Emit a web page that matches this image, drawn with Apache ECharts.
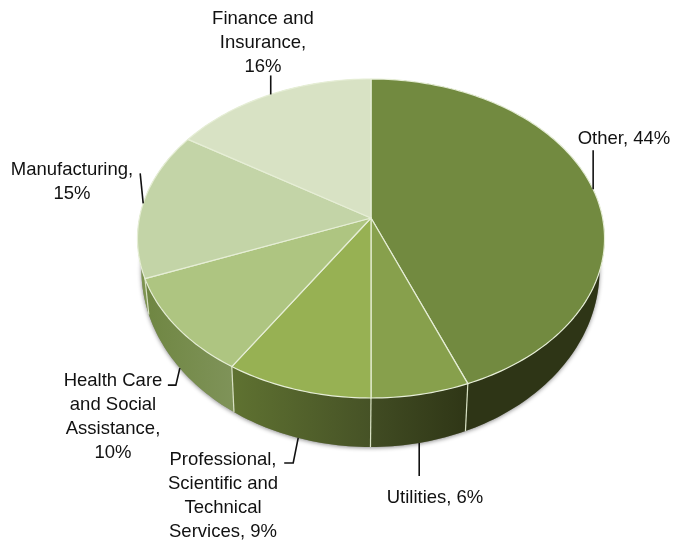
<!DOCTYPE html>
<html>
<head>
<meta charset="utf-8">
<style>html,body{margin:0;padding:0;background:#fff}#c{width:674px;height:542px}</style>
<script src="https://cdn.jsdelivr.net/npm/echarts@6/dist/echarts.min.js"></script>
</head>
<body>
<div id="c"></div>
<script>
// ---- data ----
const categories = ['Other', 'Utilities', 'Professional, Scientific and Technical Services', 'Health Care and Social Assistance', 'Manufacturing', 'Finance and Insurance'];
const shares = [44, 6, 9, 10, 15, 16];
const labelTexts = ['Other, 44%', 'Utilities, 6%', 'Professional,\nScientific and\nTechnical\nServices, 9%', 'Health Care\nand Social\nAssistance,\n10%', 'Manufacturing,\n15%', 'Finance and\nInsurance,\n16%'];

// ---- styles & layout ----
const topColors = ['#728a40', '#87a04c', '#97b153', '#aec581', '#c3d4a7', '#d8e2c4'];
const wallColors = [['#2e3516', '#2e3516'], ['#414c23', '#2f3616'], ['#5f7231', '#465226'], ['#6f8642', '#7f9359'], ['#7d9450', '#7d9450'], ['#c3d4a7', '#c3d4a7']];
const labelAnchors = [[624, 127], [435, 486], [223, 448], [113, 369], [72, 158], [263, 7]];
// leader: which rim (0 top, 1 lower), then offsets from the rim point
const leaders = [
  [0, [[0, -39]]],
  [1, [[0, 33]]],
  [1, [[-5, 25], [-14, 25]]],
  [1, [[-4, 17], [-12, 17]]],
  [0, [[-3, -30]]],
  [0, [[0, -19]]]
];
const face = { cx: 371, apexY: 218, R: 231.6, a: -128.85, c: 0.1285 };
const ell = { cx: 370.5, cy: 238.5, rx: 233.5, ry: 159.5 };
const low = { cx: 370, cy: 270, rx: 229, ry: 177 };
const total = shares.reduce((s, v) => s + v, 0);

function topPoint(frac) {
  const t = frac * 2 * Math.PI, u = Math.sin(t), v = Math.cos(t), w = 1 + face.c * v;
  return [face.cx + face.R * u / w, (face.a * v + face.apexY) / w];
}
function lowPoint(frac) {
  const p = topPoint(frac);
  return [low.cx + (p[0] - ell.cx) / ell.rx * low.rx, low.cy + (p[1] - ell.cy) / ell.ry * low.ry];
}
function range(i) {
  let s = 0;
  for (let k = 0; k < i; k++) s += shares[k];
  return [s / total, (s + shares[i]) / total];
}
function arc(fn, a, b) {
  const n = Math.max(4, Math.ceil((b - a) * 300)), pts = [];
  for (let k = 0; k <= n; k++) pts.push(fn(a + (b - a) * k / n));
  return pts;
}

const renderWall = (params) => {
  const i = params.dataIndex, [a, b] = range(i), children = [];
  if (i === 0) {
    children.push({
      type: 'polygon', shape: { points: arc(lowPoint, 0, 1) },
      style: { fill: '#8a8a80', shadowBlur: 4, shadowColor: 'rgba(0,0,0,0.45)', shadowOffsetY: 1 }
    });
  }
  children.push({
    type: 'polygon',
    shape: { points: arc(topPoint, a, b).concat(arc(lowPoint, a, b).reverse()) },
    style: {
      fill: new echarts.graphic.LinearGradient(0, 0, 1, 0, [
        { offset: 0, color: wallColors[i][0] }, { offset: 1, color: wallColors[i][1] }
      ])
    }
  });
  children.push({
    type: 'line',
    shape: { x1: topPoint(a)[0], y1: topPoint(a)[1], x2: lowPoint(a)[0], y2: lowPoint(a)[1] },
    style: { stroke: '#d9e2c4', lineWidth: 1.2 }
  });
  return { type: 'group', children };
};

const renderTop = (params) => {
  const i = params.dataIndex, [a, b] = range(i);
  return {
    type: 'polygon',
    shape: { points: [[face.cx, face.apexY]].concat(arc(topPoint, a, b)) },
    style: { fill: topColors[i], stroke: '#e6eed6', lineWidth: 1.2, lineJoin: 'round' }
  };
};

const renderLabel = (params) => {
  const i = params.dataIndex, [a, b] = range(i), mid = (a + b) / 2;
  const [rim, offs] = leaders[i];
  const p = rim ? lowPoint(mid) : topPoint(mid);
  const pts = [p].concat(offs.map(o => [p[0] + o[0], p[1] + o[1]]));
  return {
    type: 'group',
    children: [
      { type: 'polyline', shape: { points: pts }, style: { stroke: '#111111', lineWidth: 1.6, fill: null } },
      {
        type: 'text',
        style: {
          x: labelAnchors[i][0], y: labelAnchors[i][1], text: labelTexts[i],
          textAlign: 'center', textVerticalAlign: 'top',
          font: '18.5px "Liberation Sans", Arial, sans-serif', lineHeight: 24, fill: '#111111'
        }
      }
    ]
  };
};

const seriesData = categories.map((name, i) => ({ name, value: shares[i] }));
const chart = echarts.init(document.getElementById('c'), null, { renderer: 'canvas' });
chart.setOption({
  animation: false,
  backgroundColor: '#ffffff',
  series: [
    { type: 'custom', coordinateSystem: 'none', z: 1, renderItem: renderWall, data: seriesData, silent: true },
    { type: 'custom', coordinateSystem: 'none', z: 2, renderItem: renderTop, data: seriesData, silent: true },
    { type: 'custom', coordinateSystem: 'none', z: 3, renderItem: renderLabel, data: seriesData, silent: true }
  ]
});
</script>
</body>
</html>
